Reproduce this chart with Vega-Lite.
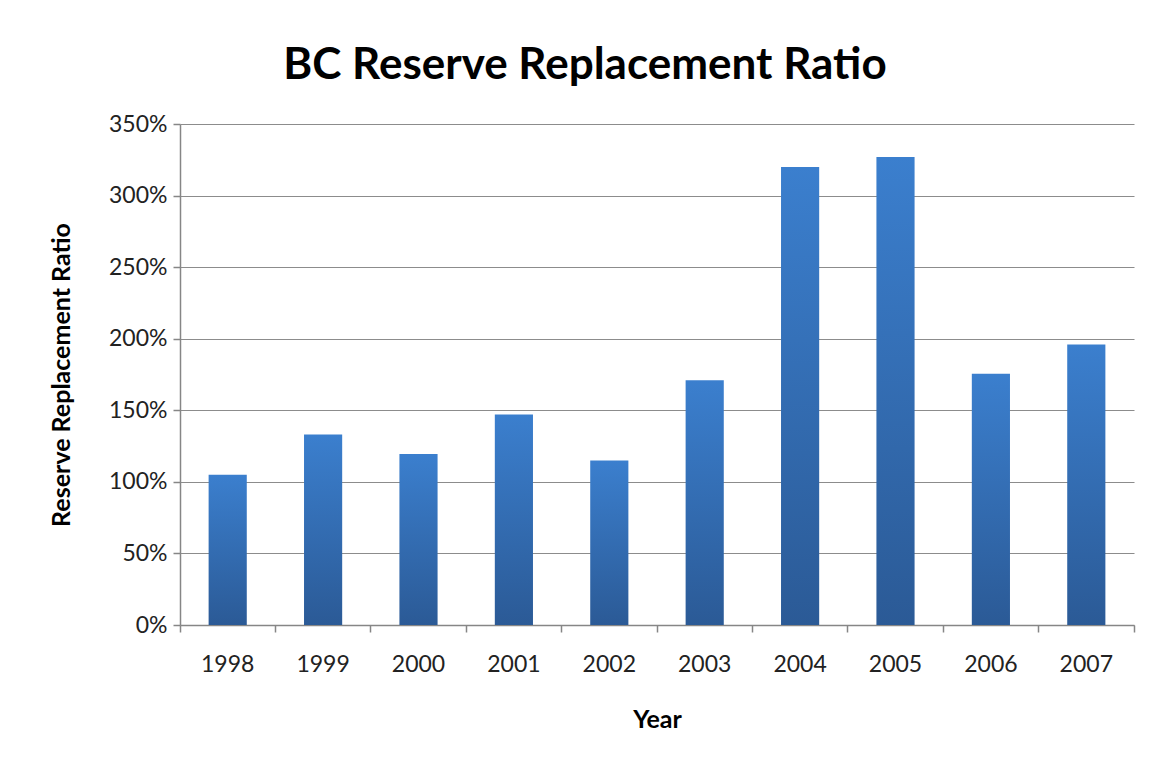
{
  "$schema": "https://vega.github.io/schema/vega-lite/v6.json",
  "autosize": "none",
  "width": 954,
  "height": 501,
  "padding": {"left": 180, "top": 124, "right": 16, "bottom": 135},
  "background": "white",
  "config": {
    "font": "Lato",
    "view": {"stroke": null}
  },
  "title": {
    "text": "BC Reserve Replacement Ratio",
    "fontSize": 44,
    "fontWeight": "bold",
    "font": "Lato",
    "color": "#000000",
    "anchor": "middle",
    "dx": -72,
    "offset": 25
  },
  "data": {
    "values": [
      {"Year": "1998", "Ratio": 1.05},
      {"Year": "1999", "Ratio": 1.33},
      {"Year": "2000", "Ratio": 1.195},
      {"Year": "2001", "Ratio": 1.47},
      {"Year": "2002", "Ratio": 1.15},
      {"Year": "2003", "Ratio": 1.71},
      {"Year": "2004", "Ratio": 3.20},
      {"Year": "2005", "Ratio": 3.27},
      {"Year": "2006", "Ratio": 1.755},
      {"Year": "2007", "Ratio": 1.96}
    ]
  },
  "mark": {
    "type": "bar",
    "width": {"band": 0.4},
    "color": {
      "gradient": "linear",
      "x1": 0, "y1": 0, "x2": 0, "y2": 1,
      "stops": [
        {"offset": 0, "color": "#3b7fce"},
        {"offset": 1, "color": "#2b5a96"}
      ]
    }
  },
  "encoding": {
    "x": {
      "field": "Year",
      "type": "nominal",
      "scale": {"paddingInner": 0, "paddingOuter": 0},
      "axis": {
        "title": "Year",
        "titleFontSize": 25,
        "titleFontWeight": "bold",
        "titleColor": "#000000",
        "titlePadding": 31,
        "labelAngle": 0,
        "labelFontSize": 23,
        "labelColor": "#222222",
        "labelPadding": 21,
        "ticks": true,
        "bandPosition": 1,
        "tickExtra": true,
        "tickSize": 7,
        "tickColor": "#868686",
        "tickWidth": 1.5,
        "domain": true,
        "domainColor": "#868686",
        "domainWidth": 1.5
      }
    },
    "y": {
      "field": "Ratio",
      "type": "quantitative",
      "scale": {"domain": [0, 3.5], "nice": false},
      "axis": {
        "title": "Reserve Replacement Ratio",
        "titleFontSize": 25,
        "titleFontWeight": "bold",
        "titleColor": "#000000",
        "titlePadding": 34,
        "format": ".0%",
        "values": [0, 0.5, 1, 1.5, 2, 2.5, 3, 3.5],
        "labelFontSize": 23,
        "labelColor": "#222222",
        "labelPadding": 6,
        "tickSize": 7,
        "tickColor": "#868686",
        "tickWidth": 1.5,
        "domainColor": "#868686",
        "domainWidth": 1.5,
        "grid": true,
        "gridColor": "#8c8c8c",
        "gridWidth": 1.2
      }
    }
  }
}
